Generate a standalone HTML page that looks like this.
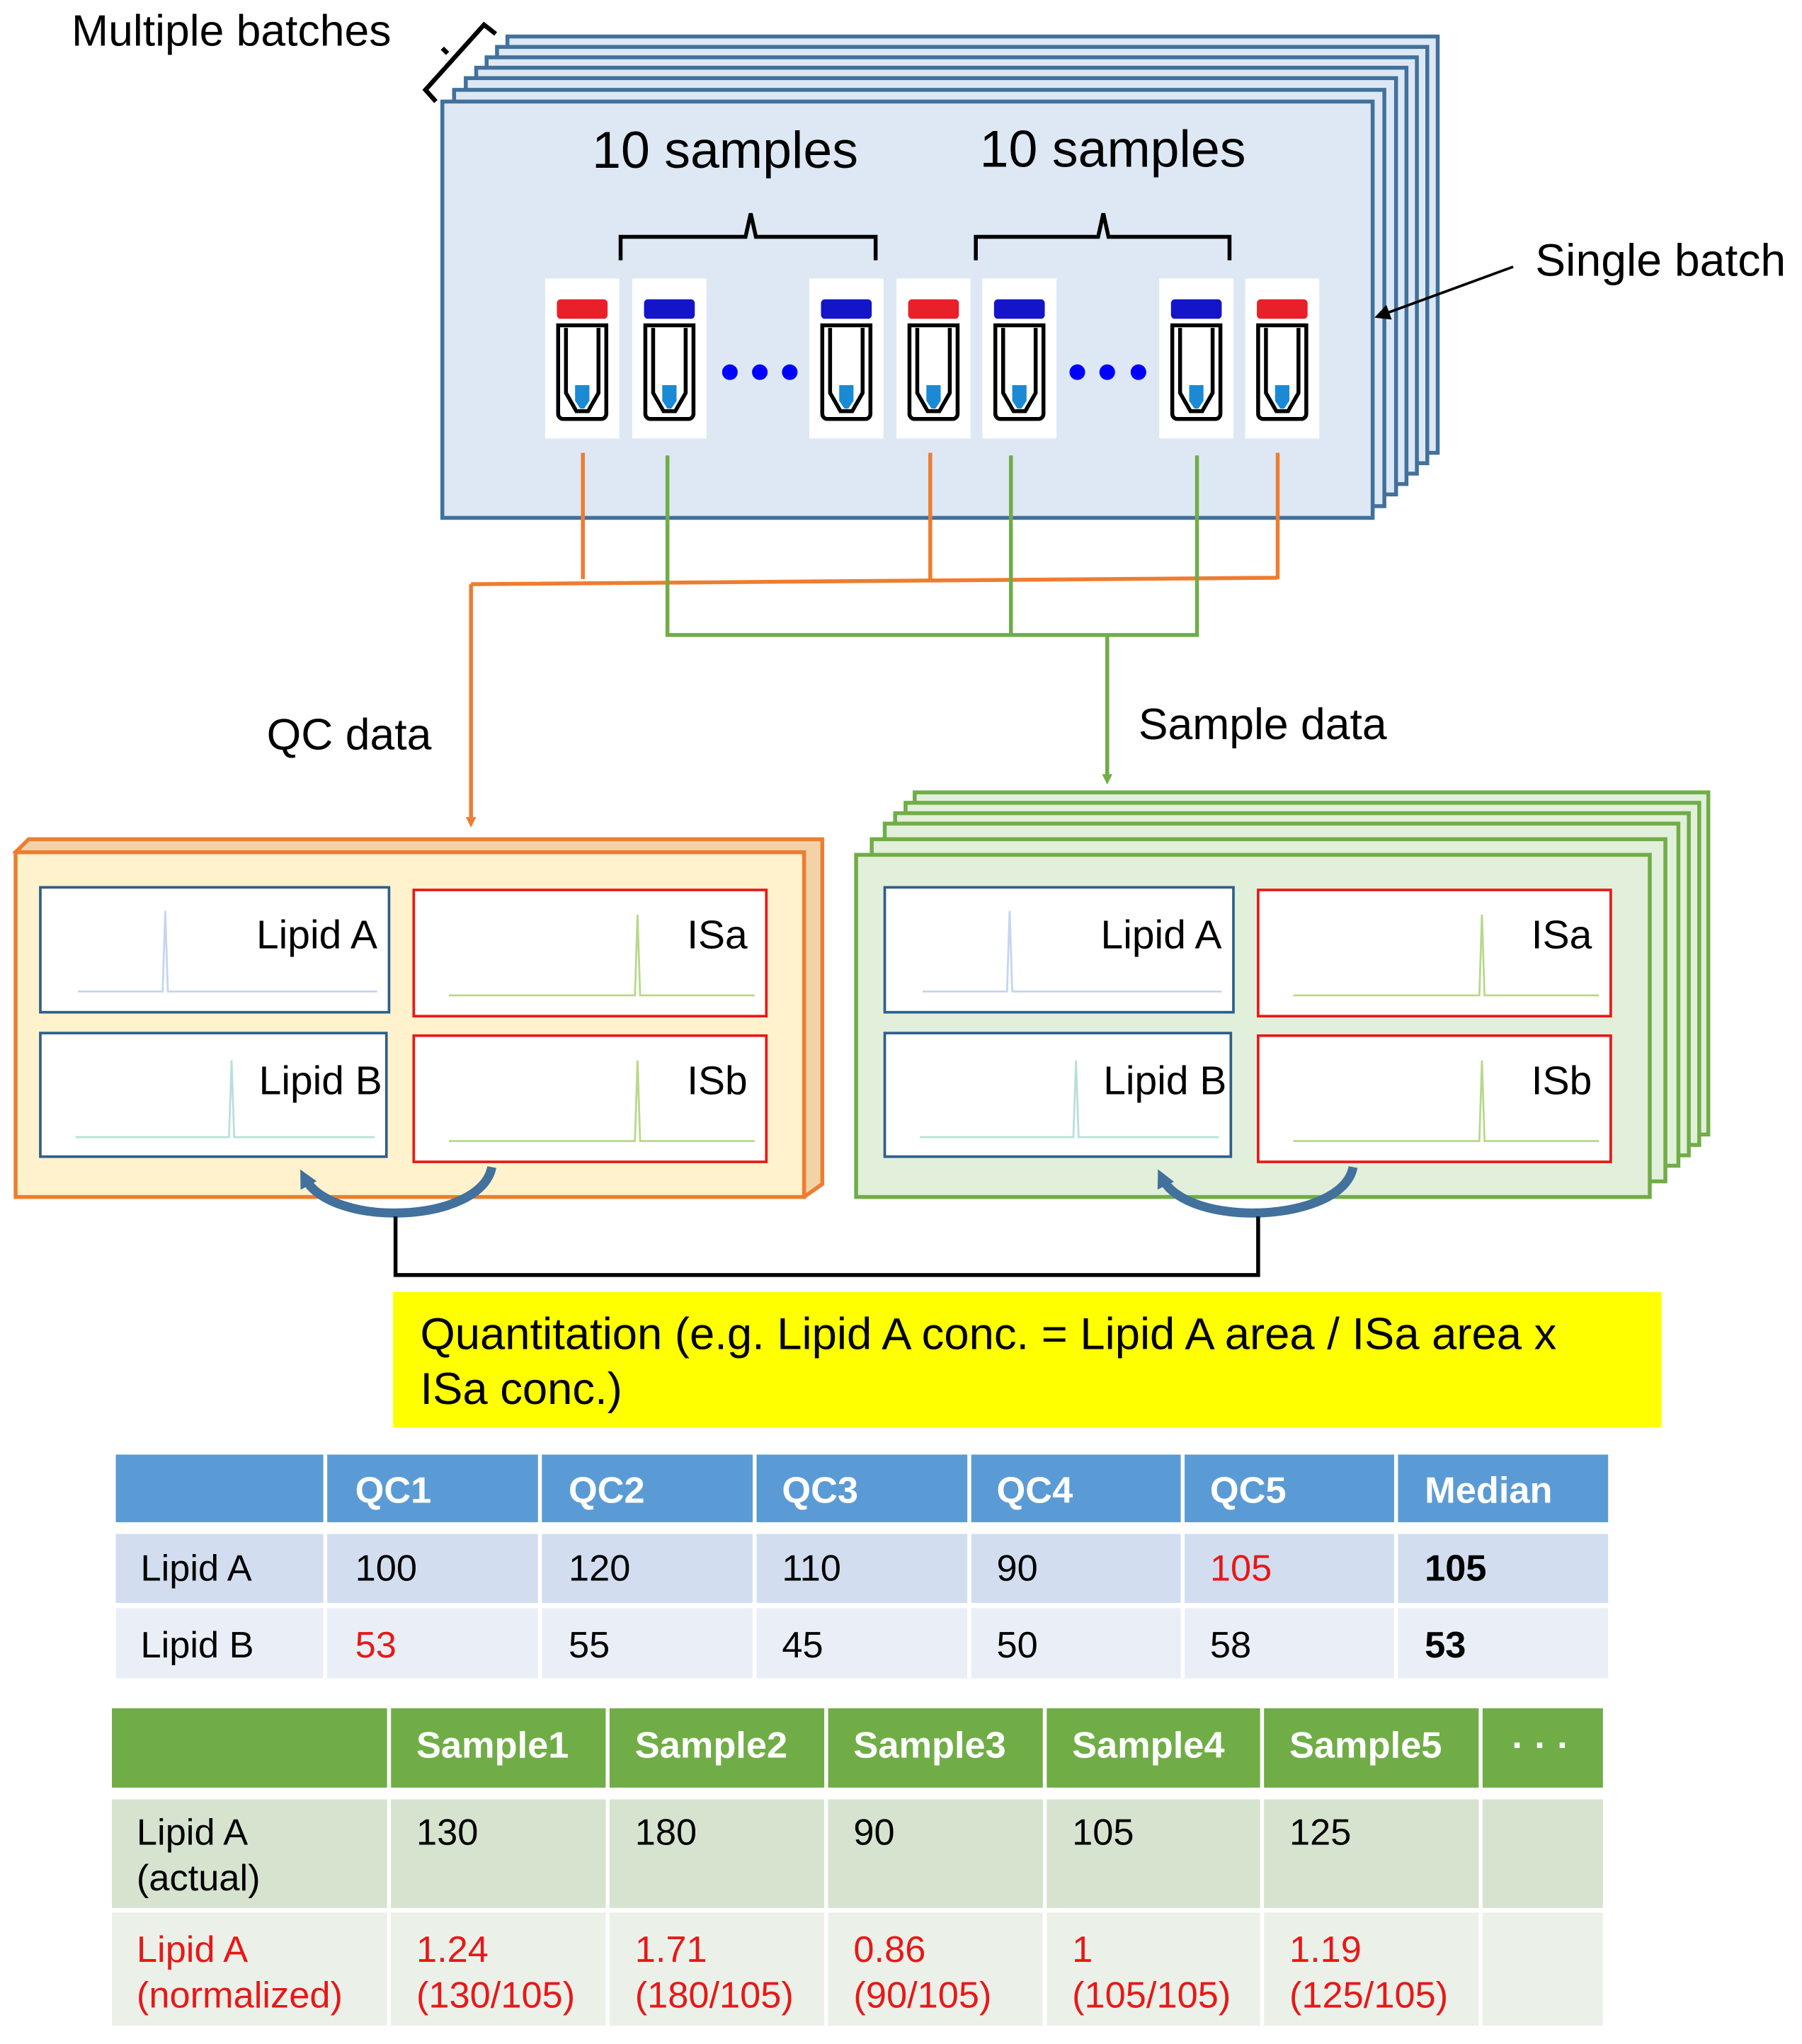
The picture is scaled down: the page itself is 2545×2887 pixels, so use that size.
<!DOCTYPE html>
<html><head><meta charset="utf-8"><style>html,body{margin:0;padding:0;background:#fff}svg{display:block}text{font-family:"Liberation Sans",Arial,sans-serif}</style></head><body>
<svg width="2545" height="2887" viewBox="0 0 1385 1571" xmlns="http://www.w3.org/2000/svg">
<defs>
<marker id="ao" markerWidth="8" markerHeight="8" refX="4" refY="4" orient="auto" markerUnits="userSpaceOnUse"><path d="M0,0 L8,4 L0,8z" fill="#ed7d31"/></marker>
<marker id="ag" markerWidth="8" markerHeight="8" refX="4" refY="4" orient="auto" markerUnits="userSpaceOnUse"><path d="M0,0 L8,4 L0,8z" fill="#70ad47"/></marker>
<marker id="ab" markerWidth="12" markerHeight="12" refX="6" refY="6" orient="auto" markerUnits="userSpaceOnUse"><path d="M0,0 L12,6 L0,12z" fill="#000"/></marker>
<marker id="ac" markerWidth="14" markerHeight="14" refX="7" refY="7" orient="auto" markerUnits="userSpaceOnUse"><path d="M0,0 L14,7 L0,14z" fill="#41719c"/></marker>
</defs>
<text x="55" y="35" font-size="34">Multiple batches</text>
<path d="M335,78 L327,69 L372,19 L381,26 M344,41 L340,37" stroke="#000" stroke-width="3.5" fill="none"/>
<!-- stacked batch -->
<g stroke="#41719c" stroke-width="3" fill="#dde8f4">
<rect x="390" y="28" width="715" height="320"/>
<rect x="382" y="36" width="715" height="320"/>
<rect x="374" y="44" width="715" height="320"/>
<rect x="366" y="52" width="715" height="320"/>
<rect x="358" y="60" width="715" height="320"/>
<rect x="349" y="69" width="715" height="320"/>
<rect x="340" y="78" width="715" height="320"/>
</g>
<text x="455" y="129" font-size="40">10 samples</text>
<text x="753" y="128" font-size="40">10 samples</text>
<path d="M477,200 v-18 h96 l4,-18 l4,18 h92 v18 M750,200 v-18 h94 l4,-18 l4,18 h93 v18" stroke="#000" stroke-width="3" fill="none"/>
<g>
<g transform="translate(419,214)"><rect width="57" height="123" fill="#fff"/><rect x="9" y="16" width="39" height="15" rx="3" fill="#e8202a"/><path d="M10,36 h37 v68 a4,4 0 0 1 -4,4 h-29 a4,4 0 0 1 -4,-4z M16,38 v50 l8,14 h9 l8,-14 v-50" stroke="#000" stroke-width="3" fill="none"/><path d="M23,82 h11 v12 l-4,6 h-3 l-4,-6z" fill="#1a8ad4"/></g>
<g transform="translate(486,214)"><rect width="57" height="123" fill="#fff"/><rect x="9" y="16" width="39" height="15" rx="3" fill="#1414c8"/><path d="M10,36 h37 v68 a4,4 0 0 1 -4,4 h-29 a4,4 0 0 1 -4,-4z M16,38 v50 l8,14 h9 l8,-14 v-50" stroke="#000" stroke-width="3" fill="none"/><path d="M23,82 h11 v12 l-4,6 h-3 l-4,-6z" fill="#1a8ad4"/></g>
<g transform="translate(622,214)"><rect width="57" height="123" fill="#fff"/><rect x="9" y="16" width="39" height="15" rx="3" fill="#1414c8"/><path d="M10,36 h37 v68 a4,4 0 0 1 -4,4 h-29 a4,4 0 0 1 -4,-4z M16,38 v50 l8,14 h9 l8,-14 v-50" stroke="#000" stroke-width="3" fill="none"/><path d="M23,82 h11 v12 l-4,6 h-3 l-4,-6z" fill="#1a8ad4"/></g>
<g transform="translate(689,214)"><rect width="57" height="123" fill="#fff"/><rect x="9" y="16" width="39" height="15" rx="3" fill="#e8202a"/><path d="M10,36 h37 v68 a4,4 0 0 1 -4,4 h-29 a4,4 0 0 1 -4,-4z M16,38 v50 l8,14 h9 l8,-14 v-50" stroke="#000" stroke-width="3" fill="none"/><path d="M23,82 h11 v12 l-4,6 h-3 l-4,-6z" fill="#1a8ad4"/></g>
<g transform="translate(755,214)"><rect width="57" height="123" fill="#fff"/><rect x="9" y="16" width="39" height="15" rx="3" fill="#1414c8"/><path d="M10,36 h37 v68 a4,4 0 0 1 -4,4 h-29 a4,4 0 0 1 -4,-4z M16,38 v50 l8,14 h9 l8,-14 v-50" stroke="#000" stroke-width="3" fill="none"/><path d="M23,82 h11 v12 l-4,6 h-3 l-4,-6z" fill="#1a8ad4"/></g>
<g transform="translate(891,214)"><rect width="57" height="123" fill="#fff"/><rect x="9" y="16" width="39" height="15" rx="3" fill="#1414c8"/><path d="M10,36 h37 v68 a4,4 0 0 1 -4,4 h-29 a4,4 0 0 1 -4,-4z M16,38 v50 l8,14 h9 l8,-14 v-50" stroke="#000" stroke-width="3" fill="none"/><path d="M23,82 h11 v12 l-4,6 h-3 l-4,-6z" fill="#1a8ad4"/></g>
<g transform="translate(957,214)"><rect width="57" height="123" fill="#fff"/><rect x="9" y="16" width="39" height="15" rx="3" fill="#e8202a"/><path d="M10,36 h37 v68 a4,4 0 0 1 -4,4 h-29 a4,4 0 0 1 -4,-4z M16,38 v50 l8,14 h9 l8,-14 v-50" stroke="#000" stroke-width="3" fill="none"/><path d="M23,82 h11 v12 l-4,6 h-3 l-4,-6z" fill="#1a8ad4"/></g>
</g>
<g fill="#0000ff"><circle cx="561" cy="286" r="6"/><circle cx="584" cy="286" r="6"/><circle cx="607" cy="286" r="6"/><circle cx="828" cy="286" r="6"/><circle cx="851" cy="286" r="6"/><circle cx="875" cy="286" r="6"/></g>
<text x="1180" y="212" font-size="35">Single batch</text>
<line x1="1163" y1="205" x2="1062" y2="242" stroke="#000" stroke-width="2" marker-end="url(#ab)"/>
<g stroke="#ed7d31" stroke-width="3" fill="none">
<path d="M448,348 V445 M715,348 V445 M982,348 V445 M982,444 L362,449"/>
<path d="M362,449 V632" marker-end="url(#ao)"/>
</g>
<g stroke="#70ad47" stroke-width="3" fill="none">
<path d="M513,350 V488 H920 V350 M777,350 V488"/>
<path d="M851,488 V599" marker-end="url(#ag)"/>
</g>
<text x="205" y="576" font-size="34">QC data</text>
<text x="875" y="568" font-size="34">Sample data</text>
<path d="M12,655 L22,645 L632,645 L632,910 L618,920 Z" fill="#f2d3a8" stroke="#ed7d31" stroke-width="3"/>
<rect x="12" y="655" width="606" height="265" fill="#fff2cc" stroke="#ed7d31" stroke-width="3"/>
<g stroke="#70ad47" stroke-width="3" fill="#e2efda">
<rect x="703" y="609" width="610" height="263"/>
<rect x="696" y="617" width="610" height="263"/>
<rect x="688" y="625" width="610" height="263"/>
<rect x="680" y="633" width="610" height="263"/>
<rect x="670" y="645" width="610" height="263"/>
<rect x="658" y="657" width="610" height="263"/>
</g>
<g id="p1">
<rect x="31" y="682" width="268" height="96" fill="#fff" stroke="#2e5f8a" stroke-width="2"/>
<path d="M60,762 H125 L127,700 L129,762 H290" stroke="#c5d5f0" stroke-width="1.5" fill="none"/>
<text x="197" y="729" font-size="31">Lipid A</text>
<rect x="318" y="684" width="271" height="97" fill="#fff" stroke="#e81818" stroke-width="2"/>
<path d="M345,765 H488 L490,703 L492,765 H580" stroke="#b8d88a" stroke-width="1.5" fill="none"/>
<text x="528" y="729" font-size="31">ISa</text>
<rect x="31" y="794" width="266" height="95" fill="#fff" stroke="#2e5f8a" stroke-width="2"/>
<path d="M58,874 H176 L178,815 L180,874 H288" stroke="#b8e0d8" stroke-width="1.5" fill="none"/>
<text x="199" y="841" font-size="31">Lipid B</text>
<rect x="318" y="796" width="271" height="97" fill="#fff" stroke="#e81818" stroke-width="2"/>
<path d="M345,877 H488 L490,815 L492,877 H580" stroke="#b8d88a" stroke-width="1.5" fill="none"/>
<text x="528" y="841" font-size="31">ISb</text>
</g>
<use href="#p1" x="649" y="0"/>
<path d="M378,897 C370,940 255,945 234,905" stroke="#41719c" stroke-width="7" fill="none" marker-end="url(#ac)"/>
<path d="M1040,897 C1032,940 912,945 893,905" stroke="#41719c" stroke-width="7" fill="none" marker-end="url(#ac)"/>
<path d="M304,935 V980 H967 V935" stroke="#000" stroke-width="3" fill="none"/>
<rect x="302" y="993" width="975" height="104" fill="#ffff00"/>
<text x="323" y="1037" font-size="34.5">Quantitation (e.g. Lipid A conc. = Lipid A area / ISa area x</text>
<text x="323" y="1079" font-size="34.5">ISa conc.)</text>
<g>
<rect x="89" y="1118" width="1147" height="52" fill="#5b9bd5"/>
<rect x="89" y="1179" width="1147" height="53" fill="#d2deef"/>
<rect x="89" y="1236" width="1147" height="54" fill="#eaeff7"/>
<g stroke="#fff" stroke-width="3"><path d="M250,1118V1290 M415,1118V1290 M580,1118V1290 M745,1118V1290 M909,1118V1290 M1073,1118V1290 M89,1175H1236 M89,1234H1236"/></g>
<g font-size="28.5" fill="#fff" font-weight="bold"><text x="273" y="1155">QC1</text><text x="437" y="1155">QC2</text><text x="601" y="1155">QC3</text><text x="766" y="1155">QC4</text><text x="930" y="1155">QC5</text><text x="1095" y="1155">Median</text></g>
<g font-size="28.5"><text x="108" y="1215">Lipid A</text><text x="273" y="1215">100</text><text x="437" y="1215">120</text><text x="601" y="1215">110</text><text x="766" y="1215">90</text><text x="930" y="1215" fill="#e81818">105</text><text x="1095" y="1215" font-weight="bold">105</text>
<text x="108" y="1274">Lipid B</text><text x="273" y="1274" fill="#e81818">53</text><text x="437" y="1274">55</text><text x="601" y="1274">45</text><text x="766" y="1274">50</text><text x="930" y="1274">58</text><text x="1095" y="1274" font-weight="bold">53</text></g>
</g>
<g>
<rect x="86" y="1313" width="1146" height="61" fill="#70ad47"/>
<rect x="86" y="1383" width="1146" height="84" fill="#d5e3cf"/>
<rect x="86" y="1470" width="1146" height="87" fill="#ebf1e9"/>
<g stroke="#fff" stroke-width="3"><path d="M299,1313V1557 M467,1313V1557 M635,1313V1557 M803,1313V1557 M970,1313V1557 M1138,1313V1557 M86,1378H1232 M86,1468H1232"/></g>
<g font-size="28.5" fill="#fff" font-weight="bold"><text x="320" y="1351">Sample1</text><text x="488" y="1351">Sample2</text><text x="656" y="1351">Sample3</text><text x="824" y="1351">Sample4</text><text x="991" y="1351">Sample5</text><text x="1162" y="1351">· · ·</text></g>
<g font-size="28.5"><text x="105" y="1418">Lipid A</text><text x="105" y="1453">(actual)</text><text x="320" y="1418">130</text><text x="488" y="1418">180</text><text x="656" y="1418">90</text><text x="824" y="1418">105</text><text x="991" y="1418">125</text></g>
<g font-size="28.5" fill="#e81818"><text x="105" y="1508">Lipid A</text><text x="105" y="1543">(normalized)</text>
<text x="320" y="1508">1.24</text><text x="320" y="1543">(130/105)</text>
<text x="488" y="1508">1.71</text><text x="488" y="1543">(180/105)</text>
<text x="656" y="1508">0.86</text><text x="656" y="1543">(90/105)</text>
<text x="824" y="1508">1</text><text x="824" y="1543">(105/105)</text>
<text x="991" y="1508">1.19</text><text x="991" y="1543">(125/105)</text></g>
</g>
</svg>
</body></html>
